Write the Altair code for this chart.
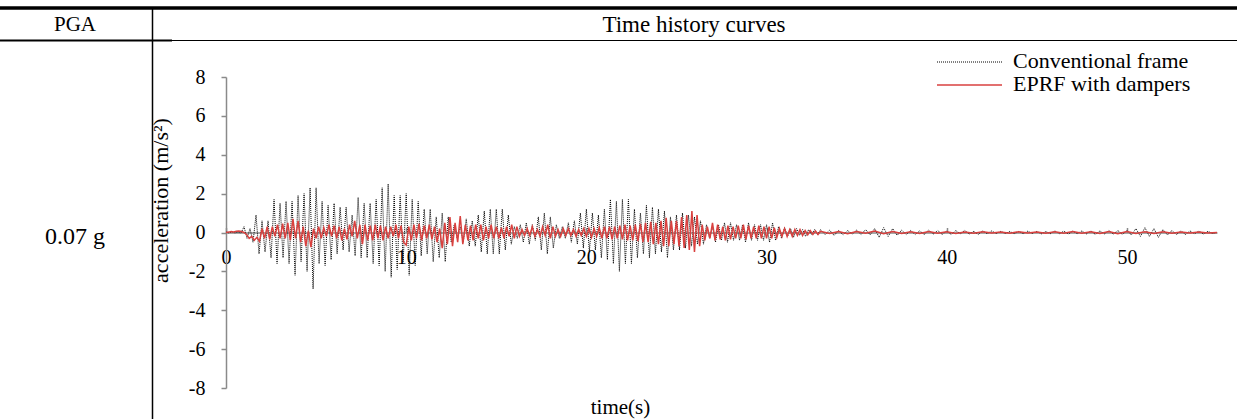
import altair as alt
import numpy as np
import pandas as pd

# ---------------- data ----------------
# Conventional frame: extremes, 6 per second (t = 0 .. 33 s)
conv_rows = [
    [0.02, -0.02, 0.03, -0.02, 0.02, -0.03],
    [0.3, -0.3, 0.2, -0.5, 0.9, -1.1],
    [0.6, -1.0, 0.6, -1.3, 1.7, -1.6],
    [1.5, -1.3, 1.6, -1.6, 1.6, -2.2],
    [1.9, -1.5, 2.0, -2.0, 2.3, -2.9],
    [2.3, -1.6, 1.6, -1.7, 1.4, -1.4],
    [1.5, -1.1, 1.3, -0.9, 1.3, -1.0],
    [0.9, -1.2, 1.8, -1.3, 1.5, -1.3],
    [1.5, -1.6, 1.7, -1.7, 2.3, -2.0],
    [2.5, -2.3, 1.9, -1.9, 1.9, -1.5],
    [2.0, -2.2, 1.7, -1.7, 1.6, -1.2],
    [1.2, -1.1, 1.2, -1.5, 0.8, -1.3],
    [1.0, -1.5, 0.8, -0.5, 0.4, -0.3],
    [0.3, -0.5, 0.7, -0.7, 0.6, -0.7],
    [0.9, -1.0, 1.1, -1.1, 1.2, -1.1],
    [1.2, -1.1, 1.2, -0.9, 0.9, -0.6],
    [0.3, -0.3, 0.4, -0.5, 0.5, -0.6],
    [0.4, -0.4, 0.8, -0.9, 1.0, -1.1],
    [0.8, -0.8, 0.4, -0.3, 0.3, -0.3],
    [0.5, -0.5, 0.6, -0.6, 1.0, -0.8],
    [1.2, -1.0, 1.0, -0.9, 0.9, -1.3],
    [1.2, -1.4, 1.7, -1.6, 1.6, -2.0],
    [1.7, -1.6, 1.7, -1.6, 1.2, -1.3],
    [1.0, -1.1, 1.4, -1.3, 1.3, -1.1],
    [1.2, -1.0, 1.1, -1.3, 0.8, -0.9],
    [0.9, -0.9, 1.0, -0.8, 0.9, -0.7],
    [0.8, -0.6, 0.6, -0.6, 0.4, -0.3],
    [0.3, -0.5, 0.4, -0.4, 0.5, -0.5],
    [0.5, -0.4, 0.4, -0.4, 0.4, -0.5],
    [0.5, -0.4, 0.4, -0.4, 0.4, -0.4],
    [0.4, -0.5, 0.5, -0.4, 0.3, -0.3],
    [0.25, -0.2, 0.2, -0.25, 0.2, -0.15],
    [0.15, -0.2, 0.15, -0.1, 0.15, -0.1],
]
# Conventional frame tail: 4 per second (t = 33 .. 55 s)
conv_tail = [
    0.15, -0.1, 0.12, -0.15, 0.1, -0.12, 0.1, -0.08, 0.12, -0.1, 0.15, -0.12,
    0.2, -0.25, 0.25, -0.2, 0.2, -0.15, 0.12, -0.1, 0.1, -0.1, 0.08, -0.1,
    0.12, -0.08, 0.1, -0.1, 0.08, -0.1, 0.1, -0.06, 0.1, -0.08, 0.06, -0.1,
    0.08, -0.06, 0.08, -0.05, 0.06, -0.05, 0.05, -0.06, 0.05, -0.06, 0.07, -0.05,
    0.06, -0.07, 0.05, -0.06, 0.08, -0.06, 0.07, -0.08, 0.07, -0.06, 0.08, -0.07,
    0.08, -0.1, 0.08, -0.07, 0.1, -0.08, 0.1, -0.1, 0.1, -0.12, 0.2, -0.2,
    0.25, -0.2, 0.2, -0.25, 0.15, -0.12, 0.1, -0.1, 0.08, -0.1, 0.08, -0.06,
    0.07, -0.08, 0.06, -0.05, 0.0,
]
# EPRF with dampers: 7 per second (t = 0 .. 33 s)
eprf_rows = [
    [0.0, 0.02, 0.05, 0.03, 0.06, 0.08, 0.05],
    [0.0, -0.1, -0.3, -0.2, -0.4, -0.25, -0.45],
    [0.2, -0.3, 0.3, -0.35, 0.3, -0.2, 0.4],
    [-0.3, 0.45, -0.3, 0.5, -0.4, 0.7, -0.3],
    [0.6, -0.5, 0.3, -0.7, 0.1, -0.75, 0.2],
    [-0.3, 0.3, -0.3, 0.25, -0.2, 0.4, -0.2],
    [0.35, -0.3, 0.3, -0.4, 0.2, -0.35, 0.4],
    [-0.2, 0.6, -0.3, 0.4, -0.6, 0.4, -0.4],
    [0.35, -0.4, 0.4, -0.3, 0.35, -0.4, 0.3],
    [-0.3, 0.3, -0.2, 0.4, -0.3, 0.35, -0.5],
    [-0.65, 0.3, -0.4, 0.4, -0.3, 0.45, -0.4],
    [0.35, -0.3, 0.4, -0.35, 0.3, -0.5, 0.2],
    [-0.8, 0.5, -0.6, 0.8, -0.7, 0.5, -0.5],
    [0.85, -0.6, 0.4, -0.4, 0.35, -0.4, 0.4],
    [-0.3, 0.4, -0.4, 0.3, -0.3, 0.4, -0.3],
    [0.3, -0.3, 0.25, -0.3, 0.3, -0.2, 0.4],
    [-0.3, 0.3, -0.2, 0.15, -0.15, 0.2, -0.15],
    [0.3, -0.2, 0.15, -0.2, 0.3, -0.15, 0.4],
    [-0.3, 0.3, -0.2, 0.15, -0.2, 0.2, -0.15],
    [0.2, -0.15, 0.15, -0.2, 0.15, -0.15, 0.2],
    [-0.2, 0.2, -0.25, 0.2, -0.2, 0.25, -0.3],
    [0.3, -0.3, 0.3, -0.35, 0.3, -0.3, 0.35],
    [-0.35, 0.4, -0.4, 0.35, -0.4, 0.4, -0.45],
    [0.45, -0.5, 0.5, -0.5, 0.55, -0.6, 0.5],
    [-0.6, 0.6, -0.7, 0.75, -0.7, 0.6, -0.6],
    [0.6, -0.7, 0.8, -0.8, 0.9, -0.9, 1.1],
    [-1.0, 0.9, -0.7, 0.4, -0.4, 0.3, -0.3],
    [0.5, -0.4, 0.4, -0.35, 0.3, -0.4, 0.35],
    [-0.35, 0.3, -0.3, 0.35, -0.3, 0.4, -0.35],
    [0.35, -0.3, 0.3, -0.3, 0.35, -0.3, 0.3],
    [-0.3, 0.3, -0.3, 0.25, -0.25, 0.2, -0.2],
    [0.2, -0.2, 0.15, -0.2, 0.15, -0.15, 0.15],
    [-0.15, 0.1, -0.12, 0.1, -0.1, 0.08, -0.1],
]
# EPRF tail: 2 per second (t = 33 .. 55 s)
eprf_tail = [
    0.06, -0.05, 0.05, -0.06, 0.05, -0.04, 0.08, -0.06, 0.05, -0.05, 0.04,
    -0.05, 0.05, -0.04, 0.04, -0.05, 0.03, -0.04, 0.04, -0.03, 0.03, -0.04,
    0.04, -0.03, 0.03, -0.04, 0.04, -0.04, 0.05, -0.04, 0.04, -0.05, 0.05,
    -0.06, 0.05, -0.05, 0.04, -0.05, 0.04, -0.04, 0.03, -0.03, 0.03, -0.02, 0.0,
]

series_names = ["Conventional frame", "EPRF with dampers"]
x_ticks = [0, 10, 20, 30, 40, 50]
y_ticks = [-8, -6, -4, -2, 0, 2, 4, 6, 8]

# ---------------- build table ----------------
conv_main = [v for r in conv_rows for v in r]
eprf_main = [v for r in eprf_rows for v in r]
t_conv = list(np.arange(len(conv_main)) / 6.0) + list(33 + np.arange(len(conv_tail)) * 0.25)
t_eprf = list(np.arange(len(eprf_main)) / 7.0) + list(33 + np.arange(len(eprf_tail)) * 0.5)
df = pd.concat([
    pd.DataFrame({"t": t_conv, "a": conv_main + conv_tail, "s": series_names[0], "o": range(len(t_conv))}),
    pd.DataFrame({"t": t_eprf, "a": eprf_main + eprf_tail, "s": series_names[1], "o": range(len(t_eprf))}),
])

FONT = "Liberation Serif"
W, H = 991, 311
RED = "#d9413f"
GRAY = "#8a8a8a"
OX, OY = 226, 77  # plot origin in page pixels

xscale = alt.Scale(domain=[0, 55], nice=False, zero=False)
yscale = alt.Scale(domain=[-8, 8], nice=False)

x_axis = alt.Axis(
    orient="top", offset=-H / 2, values=x_ticks, grid=False,
    domainColor=GRAY, domainWidth=1.5, tickColor=GRAY, tickWidth=1.5, tickSize=5,
    labelPadding=-30, labelBaseline="middle", labelFlush=False, labelOverlap=False,
    labelFont=FONT, labelFontSize=20, labelColor="black",
    title="time(s)", titleFont=FONT, titleFontSize=21, titleFontWeight="normal",
    titleX=394, titleY=175, titleBaseline="middle", titleAlign="center", titleColor="black",
)
y_axis = alt.Axis(
    values=y_ticks, tickCount=9, grid=False, labelExpr="replace(datum.label, '\u2212', '-')",
    domainColor=GRAY, domainWidth=1.5, tickColor=GRAY, tickWidth=1.5, tickSize=5,
    labelPadding=16, labelFont=FONT, labelFontSize=20, labelColor="black",
    labelOverlap=False,
    title="acceleration (m/s²)", titleFont=FONT, titleFontSize=22, titleFontWeight="normal",
    titleX=-66, titleY=200 - OY, titleAngle=270, titleBaseline="middle", titleAlign="center",
    titleColor="black",
)

base = alt.Chart(df)
conv = base.transform_filter(alt.datum.s == series_names[0]).mark_line(
    color="black", strokeWidth=1, strokeDash=[1, 1], clip=False
).encode(
    x=alt.X("t:Q", scale=xscale, axis=x_axis),
    y=alt.Y("a:Q", scale=yscale, axis=y_axis),
    order="o:Q",
)
eprf = base.transform_filter(alt.datum.s == series_names[1]).mark_line(
    color=RED, strokeWidth=1.5, clip=False
).encode(
    x=alt.X("t:Q", scale=xscale, axis=x_axis),
    y=alt.Y("a:Q", scale=yscale, axis=y_axis),
    order="o:Q",
)

one = alt.Chart(pd.DataFrame({"k": [0]}))

def hline(y, x1, x2, w):
    return one.mark_rule(color="black", strokeWidth=w).encode(
        x=alt.value(x1), x2=alt.value(x2), y=alt.value(y))

def vline(x, y1, y2, w):
    return one.mark_rule(color="black", strokeWidth=w).encode(
        x=alt.value(x), y=alt.value(y1), y2=alt.value(y2))

def label(txt, x, y, size=22, align="center"):
    return one.mark_text(text=txt, font=FONT, fontSize=size, align=align,
                         baseline="middle", color="black").encode(
        x=alt.value(x), y=alt.value(y))

table = [
    hline(8 - OY, -OX, 1237 - OX, 3.5),
    hline(40.5 - OY, -OX, 172 - OX, 2),
    hline(40.5 - OY, 172 - OX, 1237 - OX, 1.2),
    vline(152.5 - OX, 8 - OY, 419 - OY, 1.5),
    label("PGA", 75 - OX, 25 - OY, 21),
    label("Time history curves", 694 - OX, 25 - OY, 23),
    label("0.07 g", 75 - OX, 237 - OY, 24),
]
legend = [
    one.mark_rule(color="black", strokeWidth=1, strokeDash=[1, 1]).encode(
        x=alt.value(937 - OX), x2=alt.value(1002 - OX), y=alt.value(62 - OY)),
    one.mark_rule(color=RED, strokeWidth=1.5).encode(
        x=alt.value(937 - OX), x2=alt.value(1002 - OX), y=alt.value(85 - OY)),
    label(series_names[0], 1013 - OX, 61 - OY, 22, "left"),
    label(series_names[1], 1013 - OX, 84 - OY, 22, "left"),
]

chart = alt.layer(conv, eprf, *table, *legend).properties(
    width=W, height=H,
    autosize=alt.AutoSizeParams(type="none"),
    padding={"left": OX, "top": OY, "right": 1237 - OX - W, "bottom": 419 - OY - H},
    background="white",
).configure_view(stroke=None).configure_axis(labelFont=FONT, titleFont=FONT)

chart.save("out.html", embed_options={"renderer": "svg", "actions": False})
